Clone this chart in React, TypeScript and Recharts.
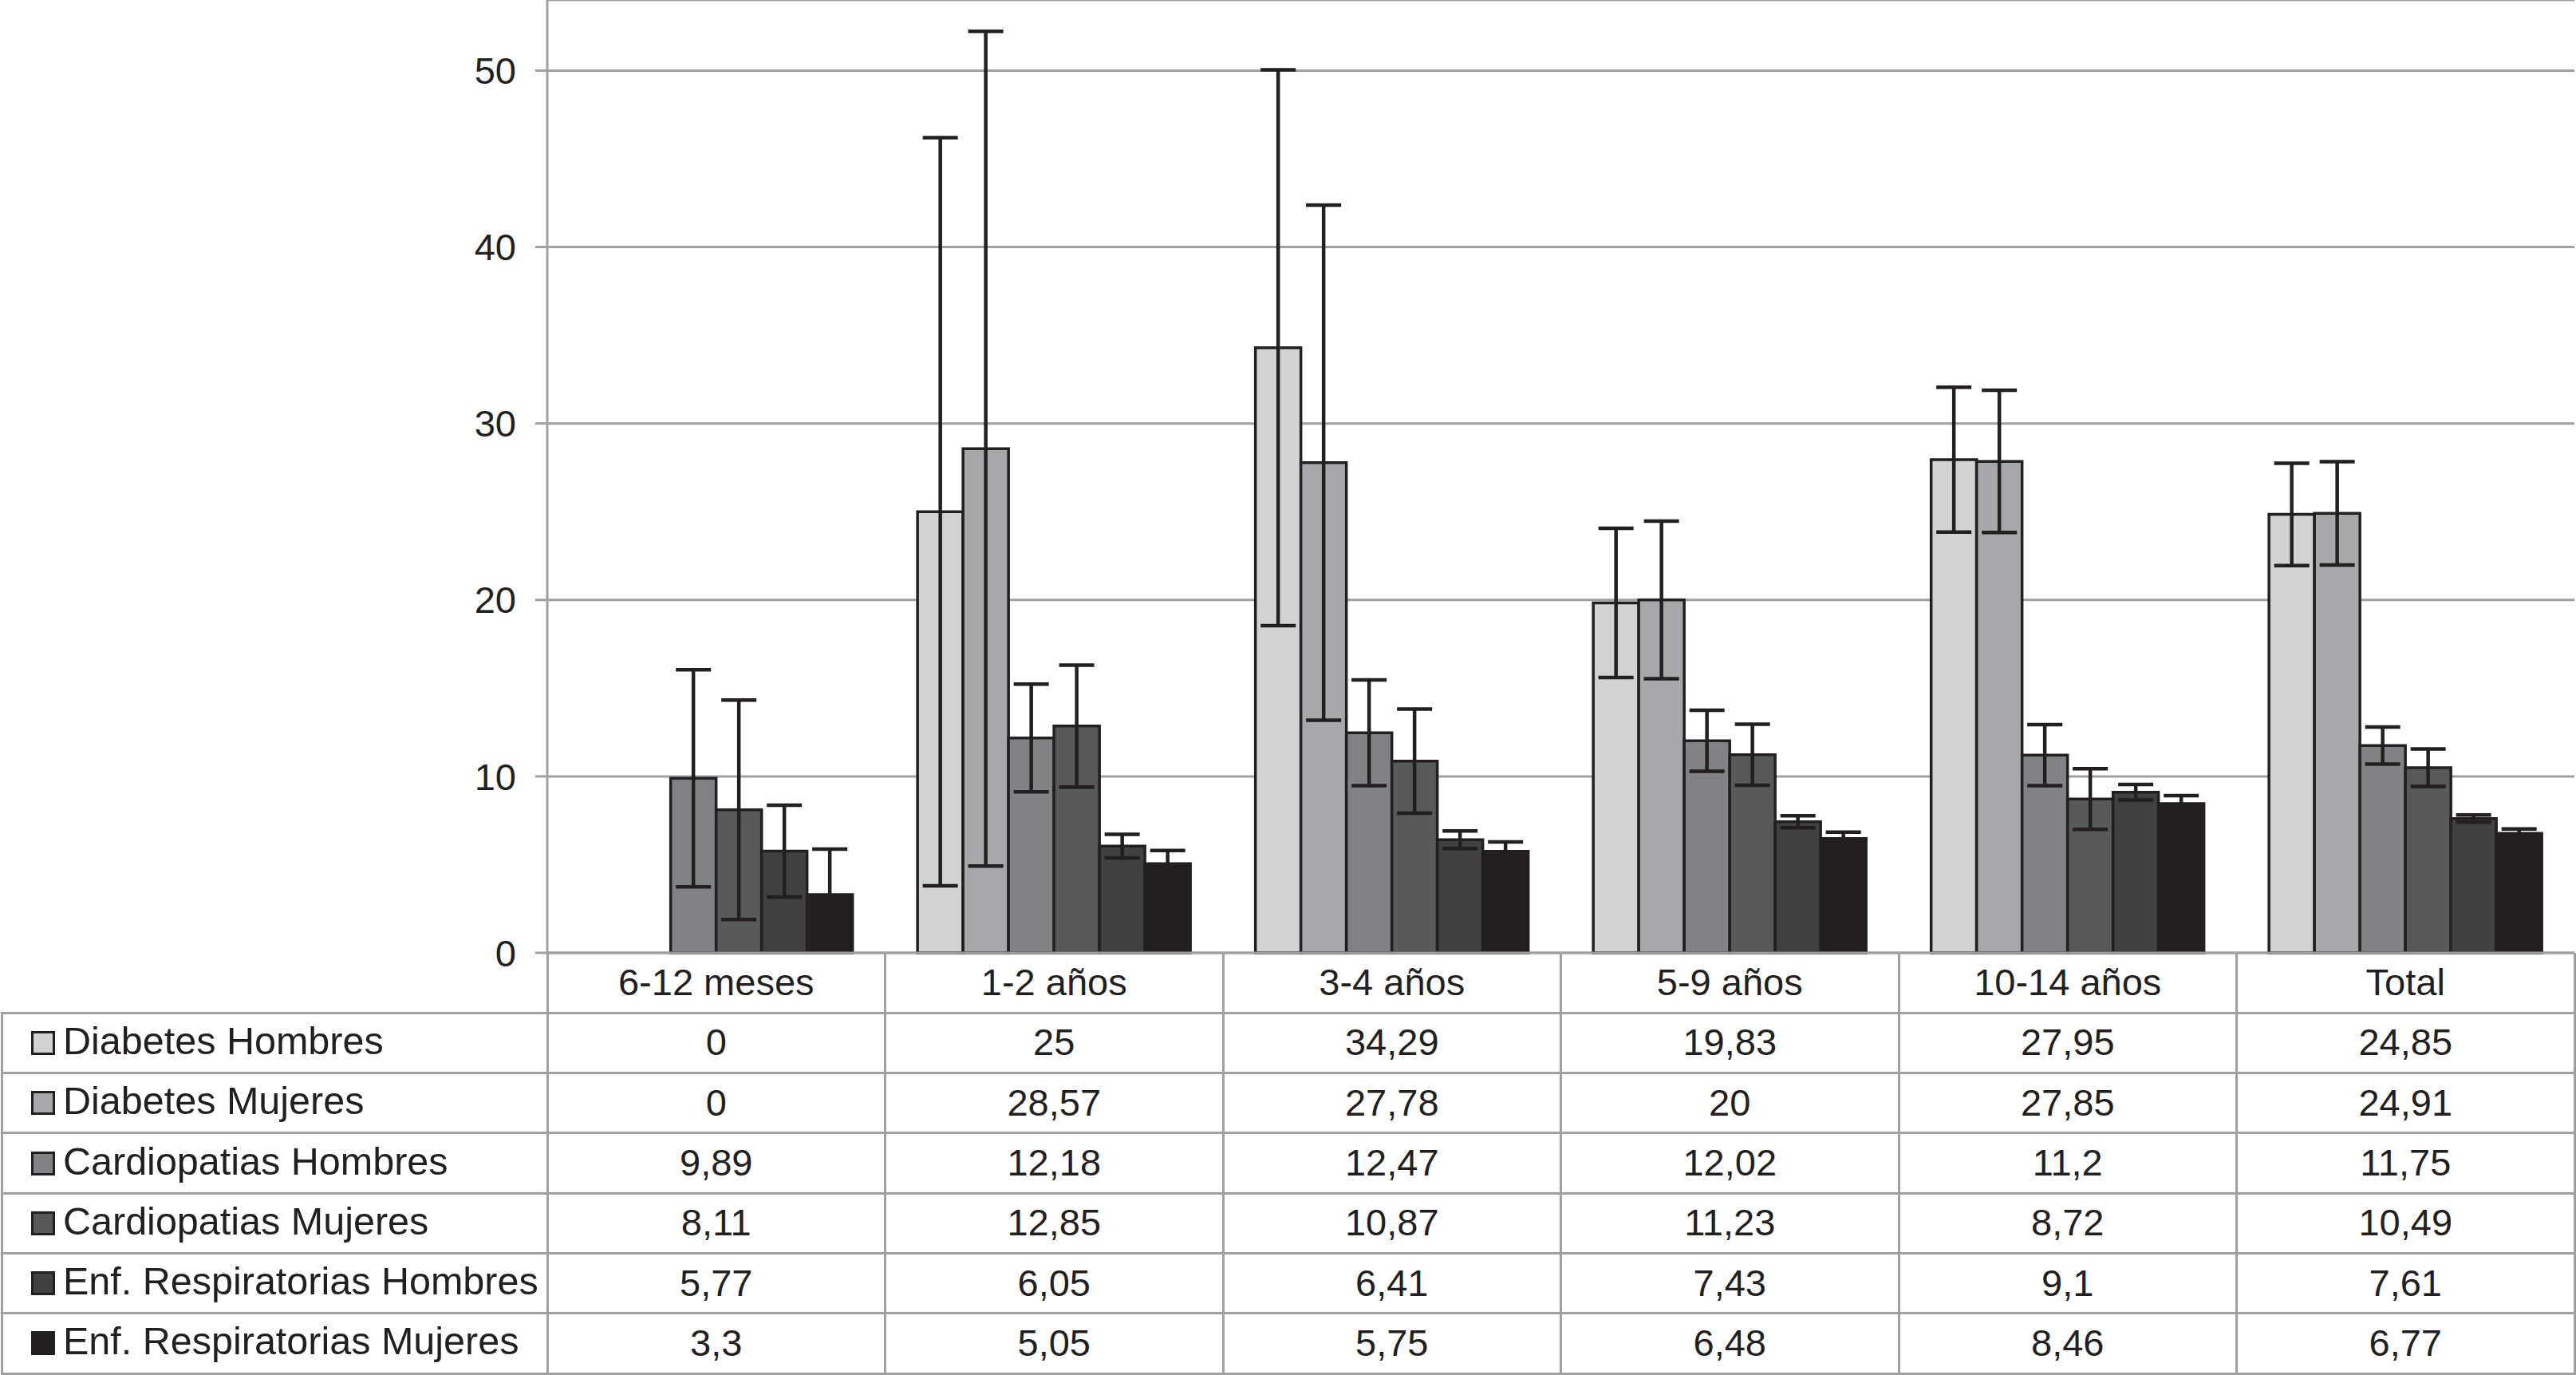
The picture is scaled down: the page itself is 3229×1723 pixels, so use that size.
import React from 'react';
import { BarChart, Bar, XAxis, YAxis, CartesianGrid, ErrorBar } from 'recharts';

// ---- Data ----
const categories = ['6-12 meses', '1-2 años', '3-4 años', '5-9 años', '10-14 años', 'Total'];

const seriesNames = [
  'Diabetes Hombres',
  'Diabetes Mujeres',
  'Cardiopatias Hombres',
  'Cardiopatias Mujeres',
  'Enf. Respiratorias Hombres',
  'Enf. Respiratorias Mujeres',
];

const diabetesHombres = [0, 25, 34.29, 19.83, 27.95, 24.85];
const diabetesMujeres = [0, 28.57, 27.78, 20, 27.85, 24.91];
const cardiopatiasHombres = [9.89, 12.18, 12.47, 12.02, 11.2, 11.75];
const cardiopatiasMujeres = [8.11, 12.85, 10.87, 11.23, 8.72, 10.49];
const respiratoriasHombres = [5.77, 6.05, 6.41, 7.43, 9.1, 7.61];
const respiratoriasMujeres = [3.3, 5.05, 5.75, 6.48, 8.46, 6.77];

// half-width of the confidence interval (error bars)
const errDiabetesHombres = [null, 21.2, 15.75, 4.23, 4.1, 2.9];
const errDiabetesMujeres = [null, 23.65, 14.6, 4.47, 4.03, 2.93];
const errCardiopatiasHombres = [6.15, 3.05, 3.0, 1.73, 1.73, 1.05];
const errCardiopatiasMujeres = [6.22, 3.45, 2.95, 1.73, 1.72, 1.06];
const errRespiratoriasHombres = [2.6, 0.67, 0.5, 0.34, 0.44, 0.2];
const errRespiratoriasMujeres = [2.58, 0.75, 0.54, 0.36, 0.45, 0.25];

const yTicks = [0, 10, 20, 30, 40, 50];

// ---- Styling ----
const seriesColors = ['#d1d2d4', '#a7a8ab', '#808285', '#58595b', '#414042', '#231f20'];
const keys = ['dh', 'dm', 'ch', 'cm', 'rh', 'rm'];
const seriesValues = [
  diabetesHombres,
  diabetesMujeres,
  cardiopatiasHombres,
  cardiopatiasMujeres,
  respiratoriasHombres,
  respiratoriasMujeres,
];
const seriesErrors = [
  errDiabetesHombres,
  errDiabetesMujeres,
  errCardiopatiasHombres,
  errCardiopatiasMujeres,
  errRespiratoriasHombres,
  errRespiratoriasMujeres,
];

const data = categories.map((c, i) => {
  const row: any = { category: c };
  keys.forEach((k, s) => {
    row[k] = seriesValues[s][i];
    row[k + 'Err'] = seriesErrors[s][i];
  });
  return row;
});

const W = 3229;
const H = 1723;
const PLOT_LEFT = 686;
const PLOT_RIGHT = 3227;
const PLOT_BOTTOM = 1194;
const ROW_H = 75.3;
const COL_W = (PLOT_RIGHT - PLOT_LEFT) / categories.length;
const GRID = '#a0a0a1';
const INK = '#231f20';
const FONT = '"Liberation Sans", Arial, Helvetica, sans-serif';
const FS = 47;
const FS_LEGEND = 48.5;

const fmt = (v: number) => String(v).replace('.', ',');

function Table() {
  const nRows = seriesNames.length;
  const tableBottom = PLOT_BOTTOM + (nRows + 1) * ROW_H;
  const lines: React.ReactNode[] = [];
  for (let i = 0; i <= categories.length; i++) {
    const x = PLOT_LEFT + i * COL_W;
    lines.push(
      <div
        key={'v' + i}
        style={{
          position: 'absolute',
          left: x - 1.5,
          top: PLOT_BOTTOM,
          width: 3,
          height: tableBottom - PLOT_BOTTOM,
          background: GRID,
        }}
      />
    );
  }
  lines.push(
    <div
      key="vleft"
      style={{
        position: 'absolute',
        left: 1,
        top: PLOT_BOTTOM + ROW_H - 1.5,
        width: 3,
        height: tableBottom - (PLOT_BOTTOM + ROW_H) + 1.5,
        background: GRID,
      }}
    />
  );
  for (let r = 1; r <= nRows + 1; r++) {
    const y = PLOT_BOTTOM + r * ROW_H;
    lines.push(
      <div
        key={'h' + r}
        style={{
          position: 'absolute',
          left: 1,
          top: y - 1.5,
          width: PLOT_RIGHT - 1 + 1.5,
          height: 3,
          background: GRID,
        }}
      />
    );
  }

  const cells: React.ReactNode[] = [];
  seriesNames.forEach((name, s) => {
    const top = PLOT_BOTTOM + (s + 1) * ROW_H;
    cells.push(
      <div
        key={'l' + s}
        style={{
          position: 'absolute',
          left: 39,
          top,
          height: ROW_H,
          display: 'flex',
          alignItems: 'center',
          whiteSpace: 'nowrap',
          fontFamily: FONT,
          fontSize: FS_LEGEND,
          color: INK,
        }}
      >
        <span
          style={{
            display: 'inline-block',
            width: 30,
            height: 30,
            boxSizing: 'border-box',
            border: `3px solid ${INK}`,
            background: seriesColors[s],
            marginRight: 10,
          }}
        />
        <span style={{ position: 'relative', top: -3 }}>{name}</span>
      </div>
    );
    seriesValues[s].forEach((v, i) => {
      cells.push(
        <div
          key={'c' + s + '-' + i}
          style={{
            position: 'absolute',
            left: PLOT_LEFT + i * COL_W,
            top,
            width: COL_W,
            height: ROW_H,
            display: 'flex',
            alignItems: 'center',
            justifyContent: 'center',
            fontFamily: FONT,
            fontSize: FS,
            color: INK,
          }}
        >
          <span style={{ position: 'relative', top: -1 }}>{fmt(v)}</span>
        </div>
      );
    });
  });

  return (
    <div style={{ position: 'absolute', left: 0, top: 0, width: W, height: H, pointerEvents: 'none' }}>
      {lines}
      {cells}
    </div>
  );
}

export default function App() {
  return (
    <div style={{ position: 'absolute', left: 0, top: 0, width: W, height: H, background: '#ffffff', overflow: 'hidden' }}>
      <BarChart
        width={W}
        height={H}
        data={data}
        margin={{ top: 0, right: W - PLOT_RIGHT, bottom: H - PLOT_BOTTOM - 75, left: 0 }}
        barCategoryGap="9.6%"
        barGap={0}
      >
        <CartesianGrid vertical={false} stroke={GRID} strokeWidth={3} />
        <XAxis
          dataKey="category"
          height={75}
          interval={0}
          tickLine={false}
          tickSize={0}
          tickMargin={20}
          axisLine={{ stroke: GRID, strokeWidth: 3 }}
          tick={{ fill: INK, fontSize: FS, fontFamily: FONT }}
        />
        <YAxis
          width={PLOT_LEFT}
          domain={[0, 54]}
          ticks={yTicks}
          interval={0}
          tickSize={15}
          tickMargin={24}
          axisLine={{ stroke: GRID, strokeWidth: 3 }}
          tickLine={{ stroke: GRID, strokeWidth: 3 }}
          tick={{ fill: INK, fontSize: FS, fontFamily: FONT }}
        />
        {keys.map((k, s) => (
          <Bar
            key={k}
            dataKey={k}
            name={seriesNames[s]}
            fill={seriesColors[s]}
            stroke={INK}
            strokeWidth={3.5}
            isAnimationActive={false}
          >
            <ErrorBar
              dataKey={k + 'Err'}
              direction="y"
              width={22}
              stroke={INK}
              strokeWidth={4.5}
              isAnimationActive={false}
            />
          </Bar>
        ))}
      </BarChart>
      <Table />
    </div>
  );
}
